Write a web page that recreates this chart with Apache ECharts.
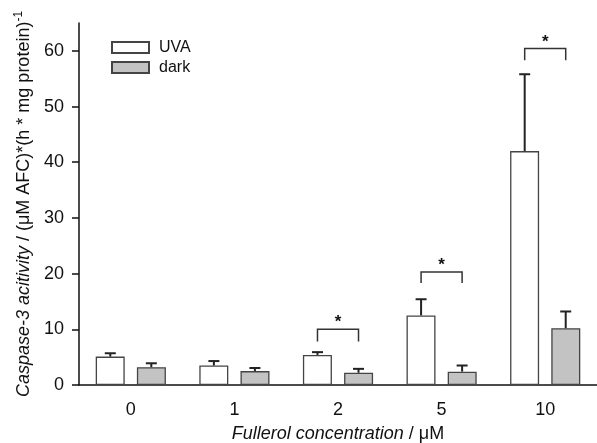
<!DOCTYPE html>
<html><head><meta charset="utf-8">
<script src="https://cdn.jsdelivr.net/npm/echarts@6/dist/echarts.min.js"></script>
<style>html,body{margin:0;padding:0;background:#fff}#c{width:597px;height:443px}</style>
</head><body><div id="c"></div>
<script>
var categories = ['0', '1', '2', '5', '10'];
var uvaValues = [5.1, 3.5, 5.4, 12.5, 42.0];
var uvaErrTop = [5.7, 4.3, 5.9, 15.4, 55.8];
var darkValues = [3.2, 2.5, 2.2, 2.4, 10.2];
var darkErrTop = [3.9, 3.05, 2.9, 3.5, 13.2];
// significance brackets: [categoryIndex, bracketTop, legBottom]
var brackets = [[2, 10.0, 7.8], [3, 20.3, 18.3], [4, 60.4, 58.3]];
var yTicks = [0, 10, 20, 30, 40, 50, 60];

var FONT = 'Liberation Sans';
var chart = echarts.init(document.getElementById('c'), null, {renderer: 'canvas'});
var OFF = 0.198;

function errorSeries(vals, tops, sign) {
  return {
    type: 'custom',
    z: 5,
    data: vals.map(function (v, i) { return [i, v, tops[i]]; }),
    renderItem: function (params, api) {
      var band = api.size([1, 0])[0];
      var p0 = api.coord([api.value(0), api.value(1)]);
      var p1 = api.coord([api.value(0), api.value(2)]);
      var x = p0[0] + sign * band * OFF;
      return {
        type: 'group',
        children: [
          {type: 'line', shape: {x1: x, y1: p0[1], x2: x, y2: p1[1]}, style: {stroke: '#222', lineWidth: 2}},
          {type: 'line', shape: {x1: x - 5.5, y1: p1[1], x2: x + 5.5, y2: p1[1]}, style: {stroke: '#222', lineWidth: 2}}
        ]
      };
    },
    tooltip: {show: false}
  };
}

var option = {
  animation: false,
  backgroundColor: '#fff',
  textStyle: {fontFamily: FONT},
  grid: {left: 79, right: 0, top: 23, bottom: 58, containLabel: false, outerBoundsMode: 'none'},
  legend: {
    left: 106, top: 33.5, orient: 'vertical', itemWidth: 37, itemHeight: 11, itemGap: 2,
    textStyle: {fontSize: 16, color: '#111', fontFamily: FONT, lineHeight: 18, padding: [0, 0, 0, 5]},
    data: [{name: 'UVA', icon: 'rect'}, {name: 'dark', icon: 'rect'}]
  },
  xAxis: {
    type: 'category', data: categories, boundaryGap: true,
    axisLine: {lineStyle: {color: '#111', width: 1.5}},
    axisTick: {alignWithLabel: true, length: 6, lineStyle: {color: '#111', width: 1.5}},
    axisLabel: {fontSize: 18, color: '#111', margin: 16, fontFamily: FONT},
    name: '{i|Fullerol concentration}{n| / μM}', nameLocation: 'middle', nameGap: 40,
    nameTextStyle: {
      rich: {
        i: {fontSize: 18, fontStyle: 'italic', color: '#111', fontFamily: FONT},
        n: {fontSize: 18, color: '#111', fontFamily: FONT}
      }
    }
  },
  yAxis: {
    type: 'value', min: 0, max: 65, interval: 10,
    splitLine: {show: false},
    axisLine: {show: true, lineStyle: {color: '#111', width: 1.5}},
    axisTick: {show: true, length: 7, customValues: yTicks, lineStyle: {color: '#111', width: 1.5}},
    axisLabel: {fontSize: 18, color: '#111', margin: 15, customValues: yTicks, fontFamily: FONT},
    name: '{i|Caspase-3 acitivity}{n| / (μM AFC)*(h * mg protein)}{s|-1}',
    nameLocation: 'middle', nameGap: 42,
    nameTextStyle: {
      rich: {
        i: {fontSize: 18, fontStyle: 'italic', color: '#111', fontFamily: FONT, lineHeight: 22},
        n: {fontSize: 18, color: '#111', fontFamily: FONT, lineHeight: 22},
        s: {fontSize: 12, color: '#111', fontFamily: FONT, verticalAlign: 'top', lineHeight: 22}
      }
    }
  },
  series: [
    {
      name: 'UVA', type: 'bar', data: uvaValues, barWidth: 29, barGap: '42%',
      itemStyle: {color: '#ffffff', borderColor: '#444', borderWidth: 1.3}
    },
    {
      name: 'dark', type: 'bar', data: darkValues, barWidth: 29,
      itemStyle: {color: '#c3c3c3', borderColor: '#444', borderWidth: 1.3}
    },
    errorSeries(uvaValues, uvaErrTop, -1),
    errorSeries(darkValues, darkErrTop, 1),
    {
      type: 'custom', z: 6,
      data: brackets,
      renderItem: function (params, api) {
        var band = api.size([1, 0])[0];
        var pt = api.coord([api.value(0), api.value(1)]);
        var pb = api.coord([api.value(0), api.value(2)]);
        var xl = pt[0] - band * OFF, xr = pt[0] + band * OFF;
        return {
          type: 'group',
          children: [
            {type: 'polyline', shape: {points: [[xl, pb[1]], [xl, pt[1]], [xr, pt[1]], [xr, pb[1]]]},
             style: {stroke: '#333', lineWidth: 1.5, fill: null}},
            {type: 'text', style: {text: '*', x: pt[0], y: pt[1] + 2, align: 'center', verticalAlign: 'bottom',
              fontSize: 17, fontWeight: 'bold', fill: '#111', fontFamily: FONT}}
          ]
        };
      }
    }
  ]
};
chart.setOption(option);
</script>
</body></html>
